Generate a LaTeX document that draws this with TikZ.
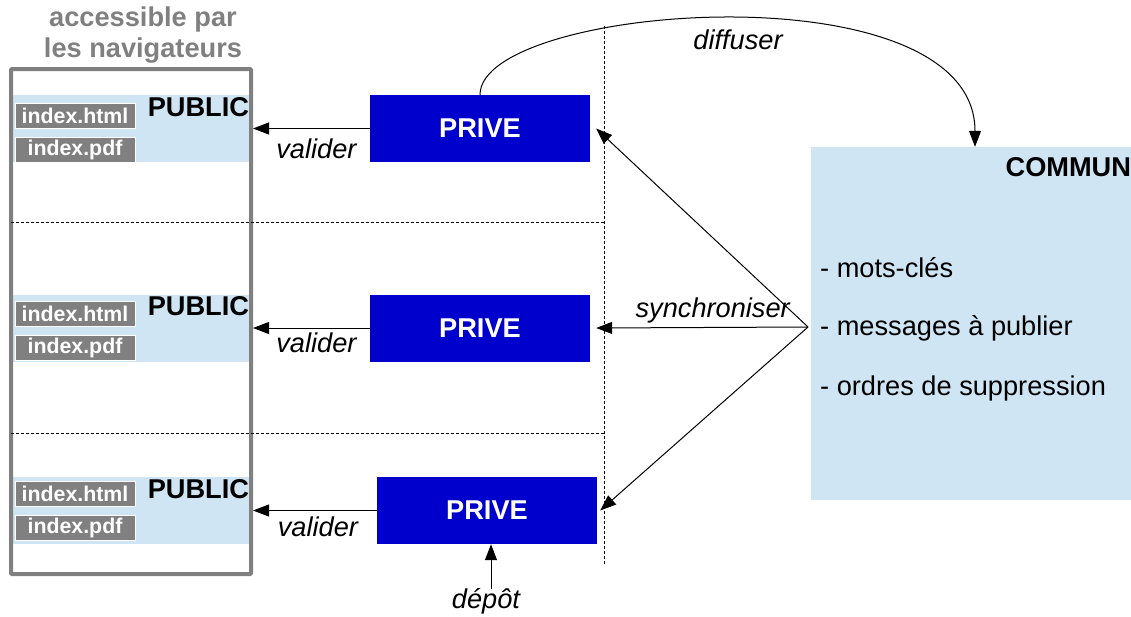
\documentclass[tikz,border=0pt]{standalone}
\usepackage{fontspec}
\setmainfont{Liberation Sans}
\usepackage{tikz}
\usetikzlibrary{
    positioning,
    calc,
    arrows.meta
}
\definecolor{bleuclair}{HTML}{CFE5F3}
\definecolor{bleuprive}{HTML}{0000CC}
\definecolor{gris}{HTML}{808080}
\newcommand{\grand}{\fontsize{27.2}{31.5}\selectfont}
\tikzset{
  basic/.style = {
      font=\grand,
      inner sep=0pt
  },
  titre/.style = {
      basic,
      font=\grand\bfseries
  },
  action/.style = {
      basic,
      font=\grand\itshape
  },
  prive/.style = {
      titre,
      rectangle,
      fill=bleuprive,
      text=white,
      minimum width=220pt,
      minimum height=67pt
  },
  band/.style = {
      rectangle,
      fill=bleuclair,
      minimum width=236pt,
      minimum height=67pt,
      inner sep=0pt
  },
  fichier/.style = {
      rectangle,
      fill=gris,
      draw=white,
      thin,
      text=white,
      font=\fontsize{21.33}{24}\selectfont\bfseries,
      minimum width=120pt,
      minimum height=25pt,
      inner sep=0pt
  },
  fleche/.style = {
      -{Triangle[length=16pt,width=12pt]},
      line width=1pt
  },
  separ/.style = {
      line width=1pt,
      dash pattern=on 3pt off 2pt
  }
}
\begin{document}
\begin{tikzpicture}[x=1pt, y=-1pt]
    \useasboundingbox (0,0) rectangle (1131,616);
    % navigateurs
    \node[titre, text=gris, align=center] (nav) at (143,35)
        {accessible par\\les navigateurs};
    \node[band] (band1) at (131,128.5) {};
    \node[band] (band2) at (131,328) {};
    \node[band] (band3) at (131,510) {};
    \draw[gris, line width=4pt, rounded corners=1pt] (11,69) rectangle (251,574);
    \node[fichier] (html1) at (75,116) {index.html};
    \node[fichier] (pdf1) at (75,150) {index.pdf};
    \node[fichier] (html2) at (75,313.5) {index.html};
    \node[fichier] (pdf2) at (75,348) {index.pdf};
    \node[fichier] (html3) at (75,494) {index.html};
    \node[fichier] (pdf3) at (75,528) {index.pdf};
    \node[titre, anchor=north east] (pub1) at ([yshift=-3pt]band1.north east) {PUBLIC};
    \node[titre, anchor=north east] (pub2) at ([yshift=-2pt]band2.north east) {PUBLIC};
    \node[titre, anchor=north east] (pub3) at ([yshift=-3pt]band3.north east) {PUBLIC};
    % separations
    \draw[separ] (11,222.5) -- (604,222.5);
    \draw[separ] (11,433.5) -- (604,433.5);
    \draw[separ] (604,26) -- (604,564);
    % prive
    \node[prive] (prive1) at (480,128.5) {PRIVE};
    \node[prive] (prive2) at (480,328) {PRIVE};
    \node[prive] (prive3) at (487,510.5) {PRIVE};
    % commun
    \node[rectangle, fill=bleuclair, minimum width=320pt, minimum height=353pt,
        inner sep=0pt] (commun) at (971,323.5) {};
    \node[titre, anchor=north east] (titrecommun) at ([yshift=-11pt]commun.north east) {COMMUN};
    \node[basic, anchor=west] (mots) at (820,268) {- mots-clés};
    \node[basic, anchor=west] (messages) at (820,328) {- messages à publier};
    \node[basic, anchor=west] (ordres) at (820,388) {- ordres de suppression};
    \coordinate (sync) at (808,327);
    \coordinate (depot) at (491,589);
    % Edges
    \draw[fleche] (prive1.west) -- node[action, below=10pt, xshift=5pt] {valider} (253,128.5);
    \draw[fleche] (prive2.west) -- node[action, below=4pt, xshift=5pt] {valider} (253,328);
    \draw[fleche] (prive3.west) -- node[action, below=6pt, xshift=3pt] {valider} (253,510.5);
    \draw[fleche] (sync) -- ([xshift=6pt]prive1.east);
    \draw[fleche] (sync) -- node[action, above=4pt, pos=0.45] {synchroniser} ([xshift=6pt]prive2.east);
    \draw[fleche] (sync) -- ([xshift=3pt]prive3.east);
    \draw[fleche] (prive1.north) .. controls (480,4) and (975,-34) ..
        ([xshift=4pt]commun.north);
    \node[action] (diffuser) at (738,40) {diffuser};
    \draw[fleche] (depot) -- (prive3.south -| depot);
    \node[action] (depotlabel) at (486,601) {dépôt};
\end{tikzpicture}
\end{document}
